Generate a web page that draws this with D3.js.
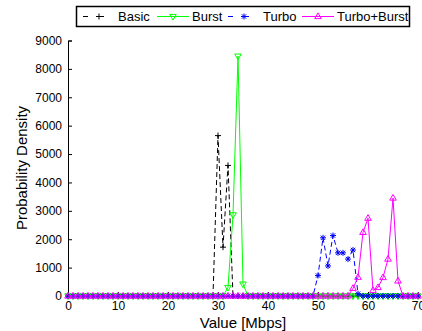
<!DOCTYPE html>
<html>
<head>
<meta charset="utf-8">
<script src="https://cdn.jsdelivr.net/npm/d3@7"></script>
<style>
  html, body { margin: 0; padding: 0; background: #fff; }
  svg { display: block; font-family: Arial, "Liberation Sans", Helvetica, sans-serif; }
</style>
</head>
<body>
<svg id="chart" width="422" height="331"></svg>
<script>
// Throughput values in Mbps (one sample per integer value 0..70)
const valuesMbps = d3.range(0, 71);

const basic = [
  0, 0, 0, 0, 0, 0, 0, 0, 0, 0,
  0, 0, 0, 0, 0, 0, 0, 0, 0, 0,
  0, 0, 0, 0, 0, 0, 0, 0, 0, 0,
  5650, 1720, 4600, 0, 0, 0, 0, 0, 0, 0,
  0, 0, 0, 0, 0, 0, 0, 0, 0, 0,
  0, 0, 0, 0, 0, 0, 0, 0, 0, 0,
  0, 0, 0, 0, 0, 0, 0, 0, 0, 0,
  0
];
const burst = [
  0, 0, 0, 0, 0, 0, 0, 0, 0, 0,
  0, 0, 0, 0, 0, 0, 0, 0, 0, 0,
  0, 0, 0, 0, 0, 0, 0, 0, 0, 0,
  0, 0, 300, 2860, 8450, 420, 0, 0, 0, 0,
  0, 0, 0, 0, 0, 0, 0, 0, 0, 0,
  0, 0, 0, 0, 0, 0, 0, 0, 0, 0,
  0, 0, 0, 0, 0, 0, 0, 0, 0, 0,
  0
];
const turbo = [
  0, 0, 0, 0, 0, 0, 0, 0, 0, 0,
  0, 0, 0, 0, 0, 0, 0, 0, 0, 0,
  0, 0, 0, 0, 0, 0, 0, 0, 0, 0,
  0, 0, 0, 0, 0, 0, 0, 0, 0, 0,
  0, 0, 0, 0, 0, 0, 0, 0, 0, 0,
  720, 2050, 1060, 2130, 1520, 1520, 1300, 1620, 80, 0,
  0, 0, 0, 0, 0, 0, 0, 0, 0, 0,
  0
];
const turboBurst = [
  0, 0, 0, 0, 0, 0, 0, 0, 0, 0,
  0, 0, 0, 0, 0, 0, 0, 0, 0, 0,
  0, 0, 0, 0, 0, 0, 0, 0, 0, 0,
  0, 0, 0, 0, 0, 0, 0, 0, 0, 0,
  0, 0, 0, 0, 0, 0, 0, 0, 0, 0,
  0, 0, 0, 0, 0, 0, 0, 270, 660, 2240,
  2740, 200, 300, 650, 1300, 3450, 530, 0, 0, 0,
  0
];

const xTicks = [0, 10, 20, 30, 40, 50, 60, 70];
const yTicks = [0, 1000, 2000, 3000, 4000, 5000, 6000, 7000, 8000, 9000];

const seriesNames = ["Basic", "Burst", "Turbo", "Turbo+Burst"];
const seriesData = [basic, burst, turbo, turboBurst];

// Presentation for each series
const styles = [
  { color: "#000000", dash: "5,3", marker: "plus" },
  { color: "#00ff00", dash: null, marker: "triDown" },
  { color: "#0000ff", dash: "5,3", marker: "star" },
  { color: "#ff00ff", dash: null, marker: "triUp" }
];

const svg = d3.select("#chart");

const x = d3.scaleLinear().domain([0, 70]).range([68, 418]);
const y = d3.scaleLinear().domain([0, 9000]).range([296, 40.5]);

// Marker shapes centred on (0,0)
const markerPaths = {
  plus: "M-3,0H3M0,-3V3",
  star: "M-3,0H3M0,-3V3M-2.2,-2.2L2.2,2.2M-2.2,2.2L2.2,-2.2",
  triUp: "M0,-3.6L3.3,2.1L-3.3,2.1Z",
  triDown: "M0,3.6L3.3,-2.1L-3.3,-2.1Z"
};

// Axes (inward ticks, no box)
const xAxis = d3.axisBottom(x).tickValues(xTicks).tickSize(-4).tickPadding(5).tickFormat(d3.format("d"));
const yAxis = d3.axisLeft(y).tickValues(yTicks).tickSize(-4).tickPadding(6).tickFormat(d3.format("d"));

const gx = svg.append("g").attr("transform", `translate(0,${y(0)})`).call(xAxis);
const gy = svg.append("g").attr("transform", `translate(${x(0)},0)`).call(yAxis);
[gx, gy].forEach(g => {
  g.select(".domain").attr("stroke", "#000").attr("stroke-width", 1);
  g.selectAll(".tick line").attr("stroke", "#000");
  g.selectAll(".tick text").attr("fill", "#000").attr("font-size", 12)
    .attr("font-family", "Arial, 'Liberation Sans', Helvetica, sans-serif");
});
gx.selectAll(".tick text").attr("dy", "0.71em");

// Series lines and markers
const line = d3.line().x((d, i) => x(valuesMbps[i])).y(d => y(d));

seriesData.forEach((vals, k) => {
  const st = styles[k];
  const g = svg.append("g");
  g.append("path")
    .datum(vals)
    .attr("d", line)
    .attr("fill", "none")
    .attr("stroke", st.color)
    .attr("stroke-width", 1)
    .attr("stroke-dasharray", st.dash);
  g.selectAll("path.m")
    .data(vals)
    .join("path")
    .attr("class", "m")
    .attr("d", markerPaths[st.marker])
    .attr("transform", (d, i) => `translate(${x(valuesMbps[i])},${y(d)})`)
    .attr("fill", "none")
    .attr("stroke", st.color)
    .attr("stroke-width", 1);
});

// Axis titles
svg.append("text")
  .attr("x", 243).attr("y", 327.5)
  .attr("text-anchor", "middle")
  .attr("font-size", 15)
  .text("Value [Mbps]");
svg.append("text")
  .attr("transform", "translate(27,168) rotate(-90)")
  .attr("text-anchor", "middle")
  .attr("font-size", 15)
  .text("Probability Density");

// Legend
const legend = svg.append("g");
legend.append("rect")
  .attr("x", 76.5).attr("y", 6.5).attr("width", 333).attr("height", 20)
  .attr("fill", "#fff").attr("stroke", "#000").attr("stroke-width", 1.5);
const legendX = [83, 157, 228, 302];
seriesNames.forEach((name, k) => {
  const st = styles[k];
  const lx = legendX[k];
  const ly = 16.5;
  legend.append("line")
    .attr("x1", lx).attr("x2", lx + 32).attr("y1", ly).attr("y2", ly)
    .attr("stroke", st.color).attr("stroke-width", 1)
    .attr("stroke-dasharray", st.dash ? "5,11" : null);
  legend.append("path")
    .attr("d", markerPaths[st.marker])
    .attr("transform", `translate(${lx + 16},${ly})`)
    .attr("fill", "none").attr("stroke", st.color).attr("stroke-width", 1);
  legend.append("text")
    .attr("x", lx + 35).attr("y", ly)
    .attr("dy", "0.35em")
    .attr("font-size", 13)
    .text(name);
});
</script>
</body>
</html>
